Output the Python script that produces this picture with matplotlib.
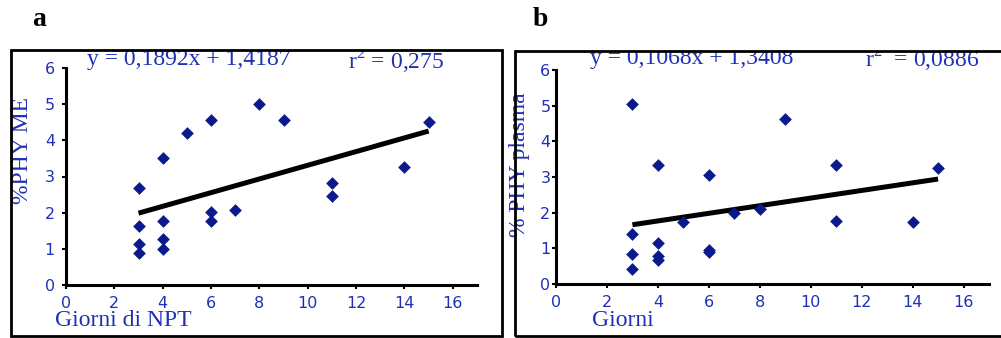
import matplotlib
matplotlib.use("Agg")
import matplotlib.pyplot as plt
import numpy as np
from matplotlib.patches import Rectangle

# ---- data ----
days_a = [3, 3, 3, 3, 4, 4, 4, 4, 5, 6, 6, 6, 7, 8, 9, 11, 11, 14, 15]
phy_me = [2.68, 1.63, 1.14, 0.88, 3.51, 1.77, 1.28, 0.99, 4.20, 4.55, 2.01, 1.78,
          2.08, 5.00, 4.55, 2.82, 2.47, 3.26, 4.52]
days_b = [3, 3, 3, 3, 4, 4, 4, 4, 5, 6, 6, 6, 7, 8, 9, 11, 11, 14, 15]
phy_plasma = [5.04, 1.40, 0.84, 0.43, 3.35, 1.14, 0.79, 0.67, 1.73, 3.06, 0.95, 0.91,
              2.00, 2.09, 4.62, 3.35, 1.77, 1.73, 3.24]
slope_a, intercept_a = 0.1892, 1.4187
slope_b, intercept_b = 0.1068, 1.3408
fit_range = [3, 15]
x_ticks = [0, 2, 4, 6, 8, 10, 12, 14, 16]
y_ticks = [0, 1, 2, 3, 4, 5, 6]

W, H = 1001, 338
TXT = '#1f30b8'
MK = '#0a1a8c'
SERIF = ['Liberation Serif', 'DejaVu Serif']

plt.rcParams['mathtext.fontset'] = 'custom'
plt.rcParams['mathtext.rm'] = 'Liberation Serif'

fig = plt.figure(figsize=(W / 100, H / 100), dpi=100)


def fx(px):
    return px / W


def fy(py):
    return 1 - py / H


def make_axes(left, right, top, bottom, xs, ys, slope, intercept, ypad):
    ax = fig.add_axes([fx(left), fy(bottom), fx(right - left), (bottom - top) / H])
    ax.set_xlim(0, 17)
    ax.set_ylim(0, 6)
    ax.scatter(xs, ys, marker='D', s=42, color=MK, zorder=3, linewidths=0)
    xf = np.array(fit_range, dtype=float)
    ax.plot(xf, slope * xf + intercept, color='black', lw=3.6, solid_capstyle='butt', zorder=2)
    for s in ['top', 'right']:
        ax.spines[s].set_visible(False)
    for s in ['left', 'bottom']:
        ax.spines[s].set_linewidth(2.2)
        ax.spines[s].set_color('black')
    ax.set_xticks(x_ticks)
    ax.set_yticks(y_ticks)
    ax.tick_params(axis='both', colors='black', labelcolor=TXT, labelsize=11.5,
                   length=3, width=1.5, direction='out')
    ax.tick_params(axis='x', pad=5)
    ax.tick_params(axis='y', pad=ypad)
    for lab in ax.get_xticklabels() + ax.get_yticklabels():
        lab.set_family('DejaVu Sans')
    ax.patch.set_alpha(0)
    return ax


ax_a = make_axes(66, 477, 68, 285, days_a, phy_me, slope_a, intercept_a, 5)
ax_b = make_axes(556, 989, 70, 284, days_b, phy_plasma, slope_b, intercept_b, 1)

# frames
rect_a = Rectangle((fx(11), fy(336)), fx(502 - 11), (336 - 50) / H, transform=fig.transFigure,
                   fill=False, lw=2.0, edgecolor='black', zorder=10)
rect_b = Rectangle((fx(515), fy(336)), fx(1010 - 515), (336 - 51) / H, transform=fig.transFigure,
                   fill=False, lw=2.0, edgecolor='black', zorder=10)
fig.add_artist(rect_a)
fig.add_artist(rect_b)

clip_a = Rectangle((fx(11), fy(336)), fx(502 - 11), (336 - 51) / H, transform=fig.transFigure)
clip_b = Rectangle((fx(515), fy(336)), fx(1010 - 515), (336 - 52) / H, transform=fig.transFigure)

# panel letters
fig.text(fx(39), fy(19), 'a', family=SERIF, weight='bold', fontsize=20, ha='center', va='center')
fig.text(fx(540), fy(20), 'b', family=SERIF, weight='bold', fontsize=20, ha='center', va='center')

# equations
t = fig.text(fx(87), fy(65), 'y = 0,1892x + 1,4187', family=SERIF, fontsize=17, color=TXT,
             ha='left', va='baseline')
t.set_clip_path(clip_a)
t = fig.text(fx(348), fy(69), r'r$^{\mathrm{2}}$ = 0,275', family=SERIF, fontsize=17, color=TXT,
             ha='left', va='baseline')
t.set_clip_path(clip_a)
t = fig.text(fx(590), fy(64), 'y = 0,1068x + 1,3408', family=SERIF, fontsize=17, color=TXT,
             ha='left', va='baseline')
t.set_clip_path(clip_b)
t = fig.text(fx(865), fy(68), r'r$^{\mathrm{2}}$  = 0,0886', family=SERIF, fontsize=17, color=TXT,
             ha='left', va='baseline')
t.set_clip_path(clip_b)

# axis labels
fig.text(fx(23), fy(150), '%PHY ME', family=SERIF, fontsize=17, color=TXT, rotation=90,
         ha='center', va='center')
fig.text(fx(520), fy(165), '% PHY plasma', family=SERIF, fontsize=17, color=TXT, rotation=90,
         ha='center', va='center')
fig.text(fx(55), fy(326), 'Giorni di NPT', family=SERIF, fontsize=17, color=TXT,
         ha='left', va='baseline')
fig.text(fx(592), fy(326), 'Giorni', family=SERIF, fontsize=17, color=TXT,
         ha='left', va='baseline')

fig.savefig('out.png', dpi=100)
